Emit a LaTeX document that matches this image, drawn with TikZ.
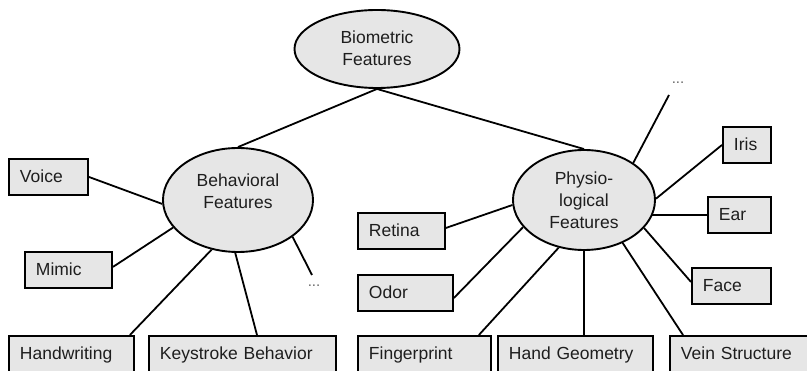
\documentclass[tikz,border=0pt]{standalone}
\usepackage{fontspec}
\setmainfont{Liberation Sans}
\usetikzlibrary{shapes.geometric,backgrounds}
\definecolor{fillgray}{HTML}{E6E6E6}
\definecolor{txt}{HTML}{1E1E1E}
\tikzset{
  feat/.style={draw=black, fill=fillgray, line width=1.9pt, rectangle,
    anchor=north west, inner xsep=11pt, inner ysep=0pt,
    text width=#1, align=left, text height=24pt, text depth=12pt,
    font=\fontsize{17.5}{21}\selectfont, text=txt},
  lowfeat/.style={feat=#1, text depth=20pt},
  ell/.style={ellipse, draw=black, fill=fillgray, line width=1.9pt, inner sep=0pt},
  elltext/.style={align=center, font=\fontsize{17.5}{22}\selectfont, text=txt, inner sep=0pt},
  conn/.style={line width=1.8pt, black},
  dotstext/.style={font=\fontsize{15}{16}\selectfont, text=black!60, inner sep=0pt}
}
\begin{document}
\begin{tikzpicture}[x=1pt,y=-1pt]
\useasboundingbox (0,0) rectangle (807,371);
\clip (0,0) rectangle (807,371);
% ellipses
\node[ell, minimum width=165pt, minimum height=78pt] (bio) at (377,49) {};
\node[elltext] (biot) at (377,48) {Biometric\\Features};
\node[ell, minimum width=150pt, minimum height=104pt] (beh) at (238,200) {};
\node[elltext] (beht) at (238,191) {Behavioral\\Features};
\node[ell, minimum width=142pt, minimum height=100pt] (phy) at (584,200) {};
\node[elltext] (phyt) at (584,200) {Physio-\\logical\\Features};
% boxes
\node[feat=57pt] (voice) at (8,158) {Voice};
\node[feat=65pt] (mimic) at (24,251) {Mimic};
\node[lowfeat=103pt] (hw) at (8,335) {Handwriting};
\node[lowfeat=165pt] (ks) at (148,335) {Keystroke Behavior};
\node[feat=65pt] (ret) at (357,212) {Retina};
\node[feat=73pt] (odor) at (357,274) {Odor};
\node[lowfeat=111pt] (fp) at (357,335) {Fingerprint};
\node[lowfeat=133pt] (hg) at (497,335) {Hand Geometry};
\node[lowfeat=125pt] (vein) at (669,335) {Vein Structure};
\node[feat=26pt] (iris) at (722,126) {Iris};
\node[feat=41pt] (ear) at (707,196) {Ear};
\node[feat=57pt] (face) at (691,267) {Face};
% dots
\coordinate (bdot) at (312,275);
\node[dotstext] (bdots) at (314,286) {...};
\coordinate (pdot) at (669,95);
\node[dotstext] (pdots) at (678,83) {...};
% connectors
\begin{scope}[on background layer]
\draw[conn] (bio.south) -- (beh.north);
\draw[conn] (bio.south) -- (phy.north);
\draw[conn] (voice.east) -- (beh.183);
\draw[conn] ([yshift=3pt]mimic.east) -- (beh.203);
\draw[conn] ([xshift=-5pt]hw.north east) -- (beh.242);
\draw[conn] ([xshift=109pt]ks.north west) -- (beh.267);
\draw[conn] (bdot) -- (beh.326);
\draw[conn] (pdot) -- (phy.37);
\draw[conn] (iris.west) -- (phy.1);
\draw[conn] (ear.west) -- (ear.west -| phy.center);
\draw[conn] ([yshift=4pt]face.west) -- (phy.335);
\draw[conn] ([xshift=14pt]vein.north west) -- (phy.312);
\draw[conn] (phy.south) -- (phy.south |- hg.north);
\draw[conn] ([xshift=-13pt]fp.north east) -- (phy.242);
\draw[conn] ([yshift=-5pt]odor.east) -- (phy.204);
\draw[conn] ([yshift=3pt]ret.east) -- (phy.184);
\end{scope}
\end{tikzpicture}
\end{document}
